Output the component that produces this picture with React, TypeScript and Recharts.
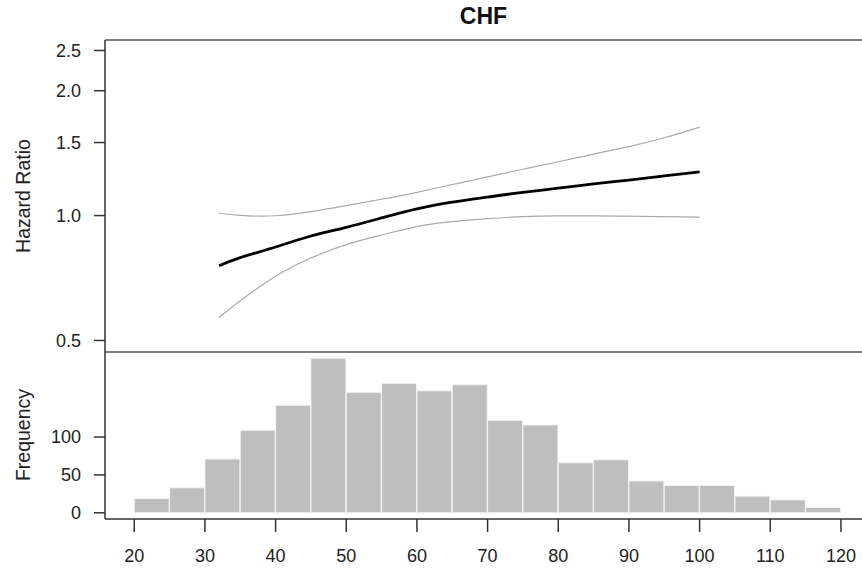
import React from 'react'
import { LineChart, ComposedChart, Line, Bar, XAxis, YAxis, ReferenceLine } from 'recharts'

// spline fit of the hazard ratio against age
const ageGrid = [32, 35, 40, 45, 50, 55, 60, 65, 70, 75, 80, 85, 90, 95, 100]
const hrFit = [0.757, 0.792, 0.84, 0.893, 0.937, 0.987, 1.038, 1.077, 1.108, 1.138, 1.164, 1.192, 1.218, 1.246, 1.275]
const hrUpper = [1.013, 1.001, 0.999, 1.022, 1.057, 1.095, 1.138, 1.188, 1.24, 1.293, 1.348, 1.407, 1.467, 1.54, 1.634]
const hrLower = [0.568, 0.623, 0.714, 0.79, 0.851, 0.898, 0.941, 0.967, 0.983, 0.994, 0.998, 0.998, 0.997, 0.994, 0.991]

// age histogram, 5 year bins
const binMids = [22.5, 27.5, 32.5, 37.5, 42.5, 47.5, 52.5, 57.5, 62.5, 67.5, 72.5, 77.5, 82.5, 87.5, 92.5, 97.5, 102.5, 107.5, 112.5, 117.5]
const binCounts = [19, 33, 71, 109, 142, 204, 159, 171, 161, 169, 122, 116, 66, 70, 42, 36, 36, 22, 17, 7]

const xTicks = [20, 30, 40, 50, 60, 70, 80, 90, 100, 110, 120]
const hrTicks = [0.5, 1.0, 1.5, 2.0, 2.5]
const freqTicks = [0, 50, 100]

const xDomain = [15.86, 122.98]
const hrDomain = [0.469, 2.65]
const freqDomain = [-8.2, 212.2]

const font = '"Liberation Sans", Arial, sans-serif'
const tickStyle = { fontSize: 18, fill: '#222', fontFamily: font }

const curveData = ageGrid.map((age, i) => ({
  age,
  fit: hrFit[i],
  upper: hrUpper[i],
  lower: hrLower[i],
}))

const histData = binMids.map((mid, i) => ({ mid, count: binCounts[i] }))

function VLabel({ text, cy }: { text: string; cy: number }) {
  return (
    <div
      style={{
        position: 'absolute',
        left: 23,
        top: cy,
        transform: 'translate(-50%, -50%) rotate(-90deg)',
        whiteSpace: 'nowrap',
        fontFamily: font,
        fontSize: 19.5,
        color: '#222',
      }}
    >
      {text}
    </div>
  )
}

export default function App() {
  return (
    <div style={{ position: 'absolute', left: 0, top: 0, width: 862, height: 571, background: '#fff' }}>
      <div
        style={{
          position: 'absolute',
          left: 0,
          width: 967,
          top: 3,
          textAlign: 'center',
          fontFamily: font,
          fontWeight: 'bold',
          fontSize: 23,
          color: '#111',
        }}
      >
        CHF
      </div>

      <div style={{ position: 'absolute', left: 0, top: 0 }}>
        <LineChart width={862} height={354} data={curveData} margin={{ top: 40, right: 0, bottom: 2, left: 0 }}>
          <XAxis dataKey="age" type="number" domain={xDomain} allowDataOverflow hide />
          <YAxis
            type="number"
            scale="log"
            domain={hrDomain}
            allowDataOverflow
            ticks={hrTicks}
            tickFormatter={(v: number) => v.toFixed(1)}
            width={105}
            tickSize={11}
            tickMargin={13}
            tick={tickStyle}
            axisLine={{ stroke: '#333', strokeWidth: 1.5 }}
            tickLine={{ stroke: '#333', strokeWidth: 1.5 }}
          />
          <ReferenceLine y={hrDomain[1]} stroke="#555" strokeWidth={1.5} />
          <ReferenceLine y={hrDomain[0]} stroke="#555" strokeWidth={1.5} />
          <Line type="natural" dataKey="upper" stroke="#aaa" strokeWidth={1.2} dot={false} isAnimationActive={false} />
          <Line type="natural" dataKey="lower" stroke="#aaa" strokeWidth={1.2} dot={false} isAnimationActive={false} />
          <Line type="natural" dataKey="fit" stroke="#000" strokeWidth={2.8} dot={false} isAnimationActive={false} />
        </LineChart>
      </div>

      <div style={{ position: 'absolute', left: 0, top: 352 }}>
        <ComposedChart
          width={862}
          height={219}
          data={histData}
          margin={{ top: 0, right: 0, bottom: 0, left: 0 }}
          barCategoryGap={0}
          barGap={0}
        >
          <XAxis
            dataKey="mid"
            type="number"
            domain={xDomain}
            allowDataOverflow
            ticks={xTicks}
            height={52}
            tickSize={13}
            tickMargin={17}
            tick={tickStyle}
            axisLine={{ stroke: '#333', strokeWidth: 1.5 }}
            tickLine={{ stroke: '#333', strokeWidth: 1.5 }}
          />
          <YAxis
            type="number"
            domain={freqDomain}
            allowDataOverflow
            ticks={freqTicks}
            width={105}
            tickSize={11}
            tickMargin={13}
            tick={tickStyle}
            axisLine={{ stroke: '#333', strokeWidth: 1.5 }}
            tickLine={{ stroke: '#333', strokeWidth: 1.5 }}
          />
          <Bar dataKey="count" fill="#bebebe" stroke="#f4f4f4" strokeWidth={1} isAnimationActive={false} />
        </ComposedChart>
      </div>

      <VLabel text="Hazard Ratio" cy={196} />
      <VLabel text="Frequency" cy={435} />
    </div>
  )
}
